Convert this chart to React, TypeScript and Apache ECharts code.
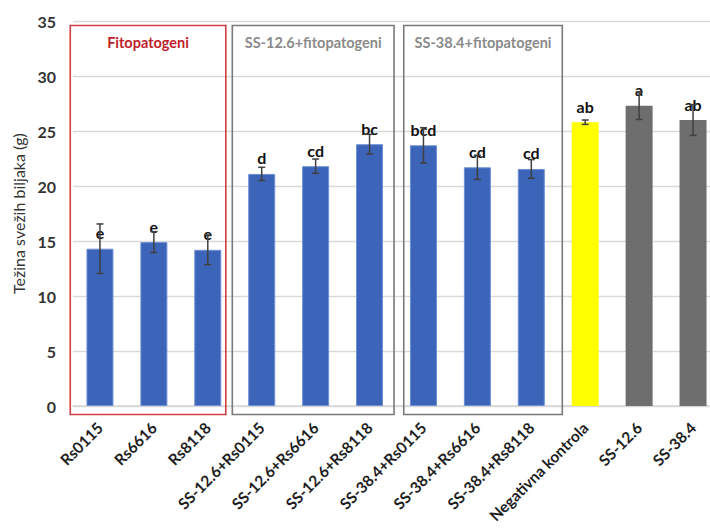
import React, { useEffect, useRef } from "react";
import * as echarts from "echarts";

const categories = [
  "Rs0115", "Rs6616", "Rs8118",
  "SS-12.6+Rs0115", "SS-12.6+Rs6616", "SS-12.6+Rs8118",
  "SS-38.4+Rs0115", "SS-38.4+Rs6616", "SS-38.4+Rs8118",
  "Negativna kontrola", "SS-12.6", "SS-38.4",
];
const values = [14.3, 14.9, 14.2, 21.1, 21.8, 23.8, 23.7, 21.7, 21.55, 25.8, 27.3, 26.0];
const errors = [2.25, 0.95, 1.35, 0.6, 0.65, 0.9, 1.6, 1.1, 0.85, 0.2, 1.25, 1.4];
const letters = ["e", "e", "e", "d", "cd", "bc", "bcd", "cd", "cd", "ab", "a", "ab"];
const barColors = [
  "#3c64b8", "#3c64b8", "#3c64b8",
  "#3c64b8", "#3c64b8", "#3c64b8",
  "#3c64b8", "#3c64b8", "#3c64b8",
  "#ffff00", "#6e6e6e", "#6e6e6e",
];
const groupTitles = ["Fitopatogeni", "SS-12.6+fitopatogeni", "SS-38.4+fitopatogeni"];
const groupStart = [0, 3, 6];
const groupEnd = [2, 5, 8];
const yTicks = { min: 0, max: 35, interval: 5 };
const yName = "Težina svežih biljaka (g)";

const groupStyle = [
  { stroke: "#cf3f3f", text: "#c0222b", padL: 29.7, padR: 18 },
  { stroke: "#7a7a7a", text: "#8a8a8a", padL: 29.4, padR: 24.5 },
  { stroke: "#7a7a7a", text: "#8a8a8a", padL: 19.7, padR: 31 },
];

const FONT = "Lato, 'Open Sans', sans-serif";

export default function App() {
  const ref = useRef<HTMLDivElement>(null);
  useEffect(() => {
    if (!ref.current) return;
    const chart = echarts.init(ref.current, null, { renderer: "svg" });
    const option: any = {
      animation: false,
      textStyle: { fontFamily: FONT },
      grid: {
        left: 73,
        top: 21,
        bottom: 123,
        width: 647,
        containLabel: false,
        outerBoundsMode: "none",
      },
      xAxis: {
        type: "category",
        data: categories,
        axisTick: { show: false },
        axisLine: { lineStyle: { color: "#d6d6d6", width: 1.5 } },
        axisLabel: {
          rotate: 45,
          interval: 0,
          margin: 19,
          fontSize: 15.5,
          fontWeight: "bold",
          color: "#1e1e1e",
          fontFamily: FONT,
        },
      },
      yAxis: {
        type: "value",
        min: yTicks.min,
        max: yTicks.max,
        interval: yTicks.interval,
        name: yName,
        nameLocation: "middle",
        nameGap: 37,
        nameTextStyle: { fontSize: 16, color: "#333", fontFamily: FONT },
        axisLine: { show: false },
        axisTick: { show: false },
        splitLine: { lineStyle: { color: "#d9d9d9", width: 1.3 } },
        axisLabel: {
          margin: 17,
          fontSize: 16,
          fontWeight: "bold",
          color: "#333",
          fontFamily: FONT,
        },
      },
      series: [
        {
          type: "bar",
          barWidth: 27,
          data: values.map((v, i) => ({
            value: v,
            itemStyle: {
              color: barColors[i],
              borderColor: i < 9 ? "#6d8fd6" : barColors[i],
              borderWidth: i < 9 ? 1 : 0,
            },
          })),
          label: {
            show: true,
            position: "top",
            distance: 8,
            formatter: (p: any) => letters[p.dataIndex],
            fontSize: 16,
            fontWeight: "bold",
            color: "#111",
            fontFamily: FONT,
          },
        },
        {
          type: "custom",
          z: 10,
          data: values.map((v, i) => [i, v - errors[i], v + errors[i]]),
          renderItem: (params: any, api: any) => {
            const x = api.value(0);
            const lo = api.coord([x, api.value(1)]);
            const hi = api.coord([x, api.value(2)]);
            const cap = 3.5;
            const style = { stroke: "#404040", lineWidth: 1.5 };
            return {
              type: "group",
              children: [
                { type: "line", shape: { x1: lo[0], y1: lo[1], x2: hi[0], y2: hi[1] }, style },
                { type: "line", shape: { x1: lo[0] - cap, y1: lo[1], x2: lo[0] + cap, y2: lo[1] }, style },
                { type: "line", shape: { x1: hi[0] - cap, y1: hi[1], x2: hi[0] + cap, y2: hi[1] }, style },
              ],
            };
          },
        },
      ],
    };
    chart.setOption(option);

    const yTop = chart.convertToPixel({ yAxisIndex: 0 }, yTicks.max) + 4.5;
    const yBot = chart.convertToPixel({ yAxisIndex: 0 }, yTicks.min) + 8.5;
    const graphics: any[] = [];
    groupTitles.forEach((t, g) => {
      const st = groupStyle[g];
      const x1 = chart.convertToPixel({ xAxisIndex: 0 }, groupStart[g]) - st.padL;
      const x2 = chart.convertToPixel({ xAxisIndex: 0 }, groupEnd[g]) + st.padR;
      graphics.push({
        type: "rect",
        shape: { x: x1, y: yTop, width: x2 - x1, height: yBot - yTop },
        style: { fill: "none", stroke: st.stroke, lineWidth: 1.6 },
        z: 5,
      });
      graphics.push({
        type: "text",
        x: (x1 + x2) / 2,
        y: yTop + 17,
        style: {
          text: t,
          fill: st.text,
          font: `bold 14.5px ${FONT}`,
          textAlign: "center",
          textVerticalAlign: "middle",
        },
        z: 5,
      });
    });
    chart.setOption({ graphic: graphics });

    return () => chart.dispose();
  }, []);
  return (
    <div
      ref={ref}
      style={{ position: "absolute", left: 0, top: 0, width: 710, height: 529 }}
    />
  );
}
